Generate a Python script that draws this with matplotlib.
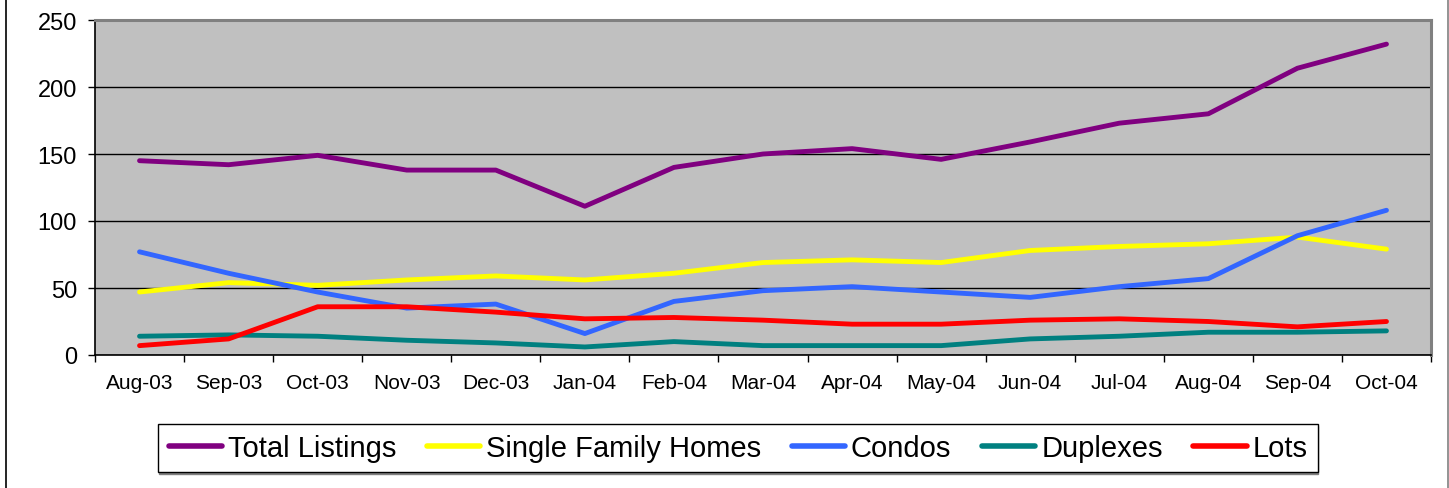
import matplotlib
matplotlib.use("Agg")
import matplotlib.pyplot as plt
from matplotlib.lines import Line2D
import numpy as np

plt.rcParams['font.family'] = ['Liberation Sans', 'DejaVu Sans']

months = ["Aug-03", "Sep-03", "Oct-03", "Nov-03", "Dec-03", "Jan-04", "Feb-04", "Mar-04",
          "Apr-04", "May-04", "Jun-04", "Jul-04", "Aug-04", "Sep-04", "Oct-04"]
total_listings = [145, 142, 149, 138, 138, 111, 140, 150, 154, 146, 159, 173, 180, 214, 232]
single_family = [47, 54, 52, 56, 59, 56, 61, 69, 71, 69, 78, 81, 83, 88, 79]
condos = [77, 61, 47, 35, 38, 16, 40, 48, 51, 47, 43, 51, 57, 89, 108]
duplexes = [14, 15, 14, 11, 9, 6, 10, 7, 7, 7, 12, 14, 17, 17, 18]
lots = [7, 12, 36, 36, 32, 27, 28, 26, 23, 23, 26, 27, 25, 21, 25]

series = [
    ("Total Listings", total_listings, "#800080"),
    ("Single Family Homes", single_family, "#FFFF00"),
    ("Condos", condos, "#3366FF"),
    ("Duplexes", duplexes, "#008080"),
    ("Lots", lots, "#FF0000"),
]

W, H = 1449, 489
fig = plt.figure(figsize=(W / 100, H / 100), dpi=100)
ax = fig.add_axes([95 / W, 1 - 356 / H, (1431 - 95) / W, (356 - 21) / H])
ax.set_facecolor("#C0C0C0")

x = np.arange(len(months))
for name, vals, col in series:
    ax.plot(x, vals, color=col, lw=3.5, label=name, solid_capstyle='round', solid_joinstyle='round')

ax.set_xlim(-0.5, len(months) - 0.5)
ax.set_ylim(0, 250)
ax.set_yticks(np.arange(0, 251, 50))
ax.yaxis.grid(True, color="black", lw=1)
ax.set_axisbelow(True)

ax.set_xticks(x)
ax.set_xticklabels(months, fontsize=15)
ax.set_xticks(np.arange(-0.5, len(months), 1), minor=True)
ax.tick_params(axis='x', which='major', length=0, pad=13)
ax.tick_params(axis='x', which='minor', length=5, width=1, color='black', direction='out')
ax.tick_params(axis='y', labelsize=17, length=5, width=1, direction='out', pad=8)

for s in ['left', 'bottom']:
    ax.spines[s].set_color('black')
    ax.spines[s].set_linewidth(1.2)
for s in ['top', 'right']:
    ax.spines[s].set_color('#808080')
    ax.spines[s].set_linewidth(2.2)

leg = fig.legend(loc='center', bbox_to_anchor=(738 / W, 1 - 449 / H), ncol=5,
                 fontsize=21, frameon=True, fancybox=False, edgecolor='black',
                 handlelength=1.83, handletextpad=0.2, columnspacing=1.05,
                 borderpad=0.35, framealpha=1,
                 shadow={'ox': 0.5, 'oy': -1.5, 'color': '#808080', 'alpha': 1})
leg.get_frame().set_linewidth(1)
for h in leg.legend_handles:
    h.set_linewidth(4)

fig.add_artist(Line2D([6.5 / W, 6.5 / W], [0, 1], transform=fig.transFigure, color='black', lw=1.2))
fig.add_artist(Line2D([1447.5 / W, 1447.5 / W], [0, 1], transform=fig.transFigure, color='#808080', lw=1.2))

fig.savefig("out.png", dpi=100)
